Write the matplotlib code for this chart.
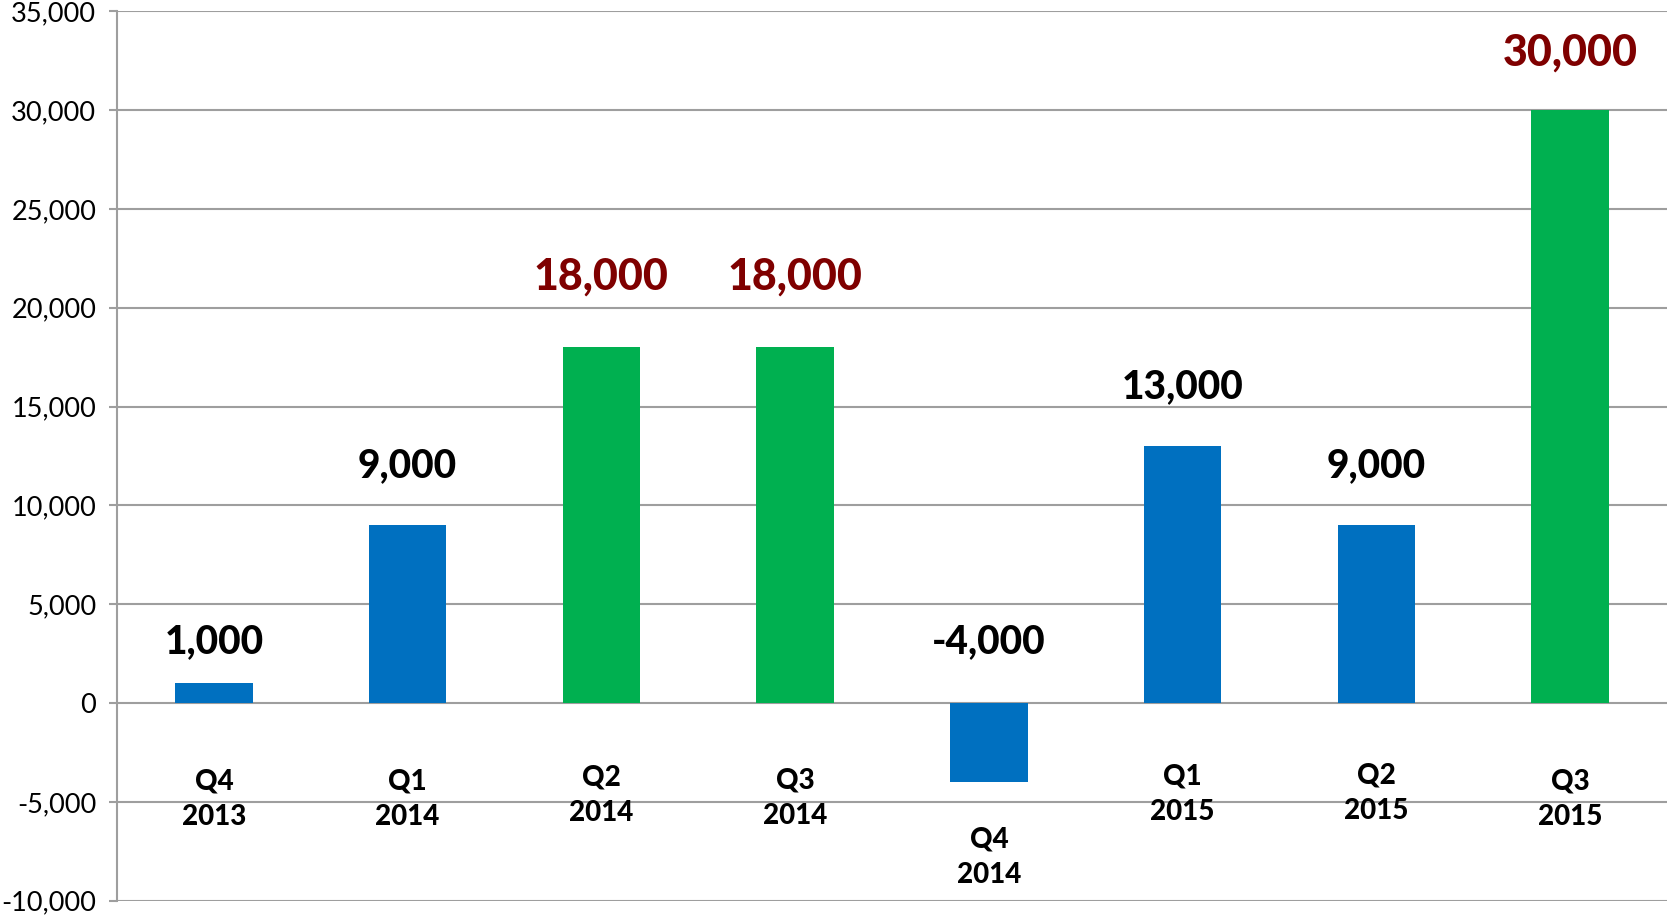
import matplotlib
matplotlib.use("Agg")
import matplotlib.pyplot as plt
import matplotlib.ticker as mticker
import numpy as np

plt.rcParams["font.family"] = ["Lato", "DejaVu Sans"]

BLUE = "#0070C0"
GREEN = "#00B050"
DARKRED = "#7F0000"
GRID = "#9E9E9E"

# data
quarters = ["Q4\n2013", "Q1\n2014", "Q2\n2014", "Q3\n2014",
            "Q4\n2014", "Q1\n2015", "Q2\n2015", "Q3\n2015"]
values = [1000, 9000, 18000, 18000, -4000, 13000, 9000, 30000]
highlight = [False, False, True, True, False, False, False, True]

# layout: where the value and category labels sit (data units)
value_label_y = [3100, 12000, 21600, 21600, 3100, 16000, 12000, 32900]
cat_label_y = [-4850, -4850, -4650, -4800, -7800, -4600, -4550, -4850]

fig = plt.figure(figsize=(16.67, 9.15), dpi=100)
ax = fig.add_axes([0.0702, 0.0156, 0.9298, 0.9721])

x = np.arange(len(values))
colors = [GREEN if h else BLUE for h in highlight]
ax.bar(x, values, width=0.4, color=colors, zorder=3)

for i, v in enumerate(values):
    ax.text(x[i], value_label_y[i], f"{v:,}", ha="center", va="center",
            fontsize=31 if highlight[i] else 28, fontweight=900,
            color=DARKRED if highlight[i] else "black", zorder=4)
    ax.text(x[i], cat_label_y[i], quarters[i], ha="center", va="center",
            fontsize=20, fontweight=900, color="black", linespacing=1.45,
            zorder=4)

ax.set_xlim(-0.5, len(values) - 0.5)
ax.set_ylim(-10000, 35000)
ax.yaxis.set_major_locator(mticker.MultipleLocator(5000))
ax.yaxis.set_major_formatter(mticker.FuncFormatter(lambda v, p: f"{int(v):,}"))
ax.set_xticks([])
ax.tick_params(axis="y", length=6, width=1.5, color=GRID, labelsize=19.5, pad=9)

ax.grid(axis="y", color=GRID, linewidth=1.5, zorder=1)
for s in ["top", "right", "bottom"]:
    ax.spines[s].set_visible(False)
ax.spines["left"].set_color(GRID)
ax.spines["left"].set_linewidth(1.5)

fig.savefig("out.png", dpi=100)
